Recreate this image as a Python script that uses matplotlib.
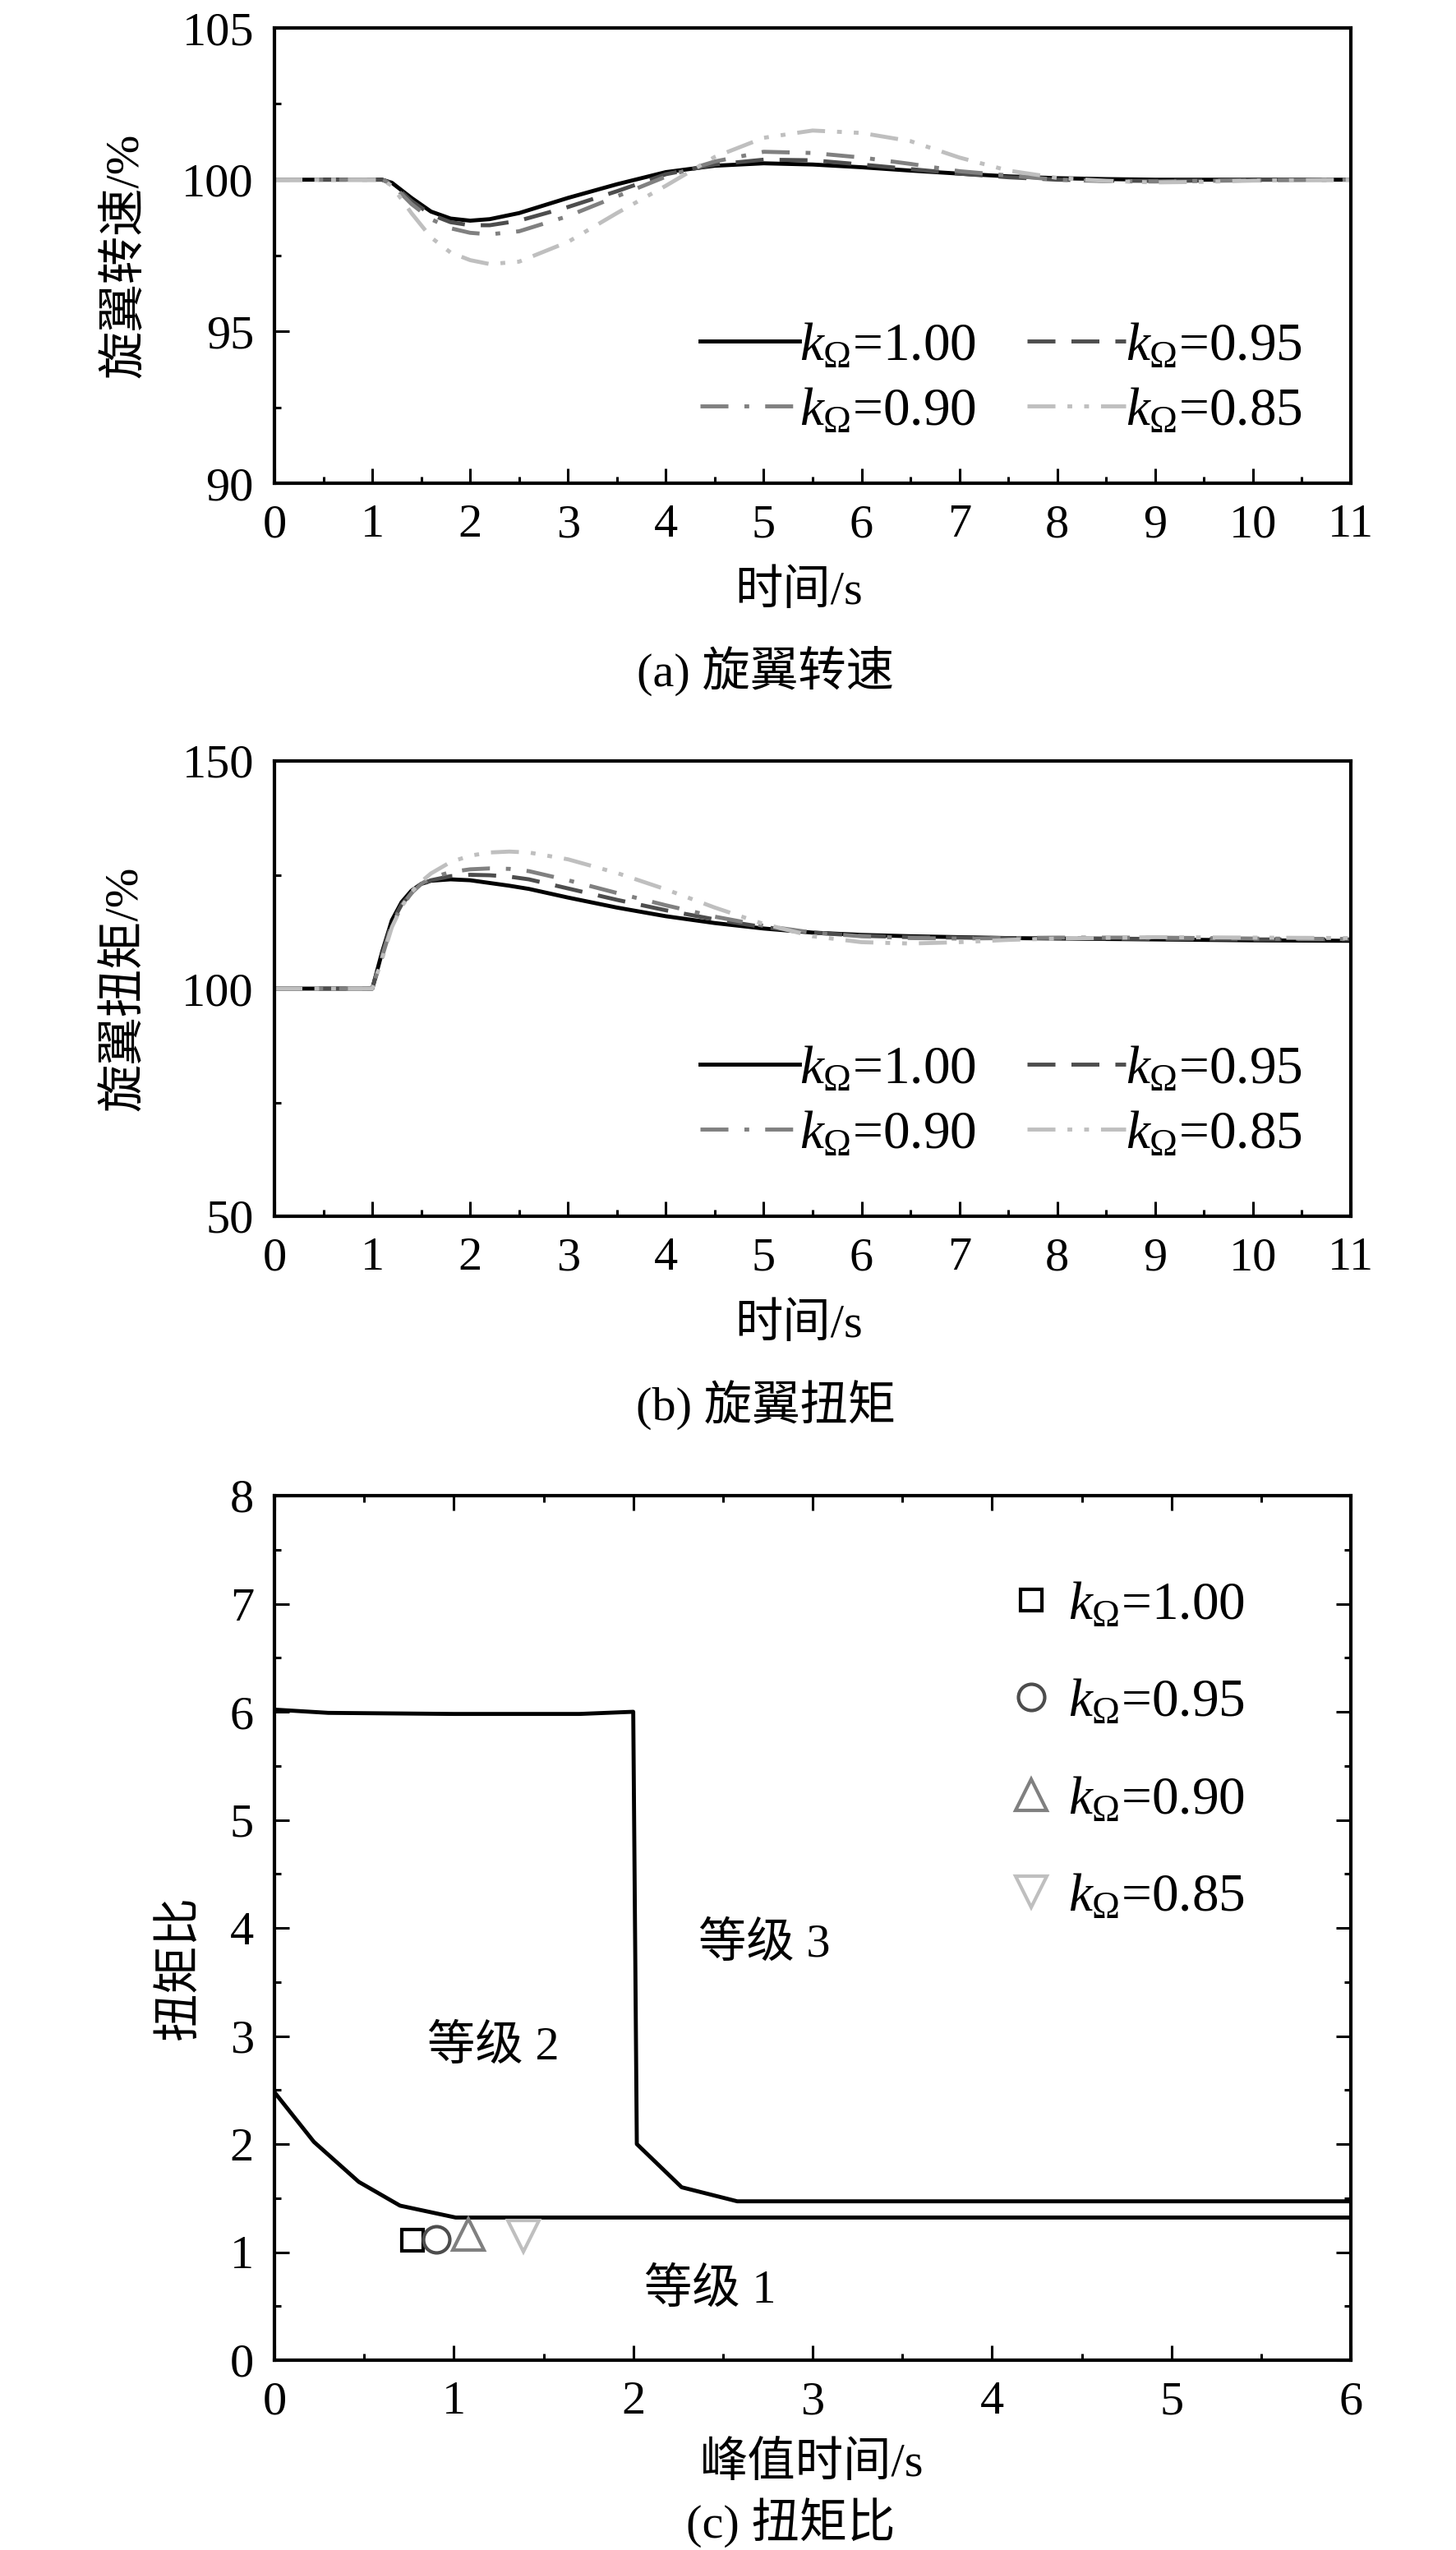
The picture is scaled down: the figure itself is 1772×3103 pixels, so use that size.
import matplotlib
matplotlib.use("Agg")
import matplotlib.pyplot as plt
from matplotlib.ticker import MultipleLocator

# ---------------- data ----------------
labels = [r'$k_{\mathrm{\Omega}}$=1.00', r'$k_{\mathrm{\Omega}}$=0.95',
          r'$k_{\mathrm{\Omega}}$=0.90', r'$k_{\mathrm{\Omega}}$=0.85']

# (a) rotor speed, %
t_speed = [0, 1.0, 1.1, 1.2, 1.4, 1.6, 1.8, 2.0, 2.2, 2.5, 3.0, 3.5, 4.0, 4.5,
           5.0, 5.5, 6.0, 6.5, 7.0, 7.5, 8.0, 8.5, 9.0, 9.5, 10.0, 11.0]
speed_100 = [100, 100, 100, 99.9, 99.4, 98.95, 98.72, 98.65, 98.7, 98.9, 99.4, 99.85, 100.25, 100.46,
             100.54, 100.5, 100.41, 100.3, 100.2, 100.11, 100.05, 100.02, 100.0, 100.0, 100.0, 100.0]
speed_095 = [100, 100, 100, 99.88, 99.3, 98.85, 98.6, 98.5, 98.5, 98.65, 99.1, 99.62, 100.18, 100.5,
             100.66, 100.64, 100.5, 100.35, 100.2, 100.08, 100.0, 99.97, 99.96, 99.97, 100.0, 100.0]
speed_090 = [100, 100, 100, 99.85, 99.2, 98.7, 98.4, 98.25, 98.2, 98.3, 98.8, 99.45, 100.1, 100.6,
             100.92, 100.88, 100.73, 100.52, 100.28, 100.14, 100.0, 99.95, 99.94, 99.96, 99.98, 100.0]
speed_085 = [100, 100, 100, 99.8, 98.9, 98.1, 97.6, 97.35, 97.22, 97.3, 97.95, 98.9, 99.8, 100.75,
             101.38, 101.62, 101.54, 101.27, 100.73, 100.3, 100.06, 99.96, 99.91, 99.93, 99.97, 100.0]

# (b) rotor torque, %
t_torque = [0, 1.0, 1.1, 1.2, 1.3, 1.4, 1.5, 1.6, 1.8, 2.0, 2.2, 2.4, 2.6, 3.0, 3.5, 4.0, 4.5,
            5.0, 5.5, 6.0, 6.5, 7.0, 7.5, 8.0, 9.0, 10.0, 11.0]
torque_100 = [100, 100, 108, 115, 119, 121.5, 123, 123.7, 124.0, 123.8, 123.2, 122.6, 121.9, 120.0, 117.8, 115.9, 114.4,
              113.2, 112.3, 111.8, 111.5, 111.3, 111.1, 111.0, 110.8, 110.6, 110.5]
torque_095 = [100, 100, 107.5, 114.5, 118.5, 121, 122.8, 123.8, 124.7, 125.0, 124.9, 124.6, 124.0, 122.0, 119.5, 117.2, 115.2,
              113.5, 112.3, 111.6, 111.3, 111.2, 111.1, 111.1, 110.9, 110.8, 110.8]
torque_090 = [100, 100, 107, 114, 118, 121, 123, 124.3, 125.6, 126.2, 126.4, 126.3, 125.8, 123.8, 121.0, 118.3, 115.8,
              113.8, 112.3, 111.5, 111.1, 111.0, 111.1, 111.2, 111.2, 111.0, 110.9]
torque_085 = [100, 100, 106.5, 113.5, 118, 121.2, 123.5, 125.3, 127.8, 129.2, 129.9, 130.1, 129.9, 128.4, 125.4, 121.8, 117.8,
              114.2, 111.5, 110.2, 109.9, 110.2, 110.7, 111.0, 111.3, 111.2, 111.1]

# (c) torque ratio boundaries and points
bound12_x = [0, 0.22, 0.47, 0.70, 1.01, 6.0]
bound12_y = [2.48, 2.02, 1.65, 1.43, 1.32, 1.32]
bound23_x = [0, 0.3, 1.0, 1.7, 2.0, 2.02, 2.27, 2.58, 6.0]
bound23_y = [6.02, 5.99, 5.98, 5.98, 6.0, 2.0, 1.6, 1.47, 1.47]
peak_time = [0.77, 0.90, 1.08, 1.39]
torque_ratio = [1.11, 1.12, 1.16, 1.15]

region_text = ['等级 1', '等级 2', '等级 3']
region_x = [2.43, 1.22, 2.73]
region_y = [0.65, 2.90, 3.85]

# ---------------- style ----------------
plt.rcParams['font.family'] = ['Liberation Serif', 'Noto Sans CJK SC']
plt.rcParams['mathtext.fontset'] = 'custom'
plt.rcParams['mathtext.rm'] = 'Liberation Serif'
plt.rcParams['mathtext.it'] = 'Liberation Serif:italic'
plt.rcParams['axes.unicode_minus'] = False

FS = 42
LEG_FS = 47
colors = ['#000000', '#4d4d4d', '#808080', '#bfbfbf']
dashes = [None, (7, 4), (7, 4, 1.2, 4), (7, 3, 1.2, 3, 1.2, 3)]
LW = 3.5

W, H = 1772, 3103
fig = plt.figure(figsize=(W / 100, H / 100), dpi=100)


def add_axes_px(left, top, right, bottom):
    return fig.add_axes([left / W, 1 - bottom / H, (right - left) / W, (bottom - top) / H])


def style_axes(ax, all_sides=False):
    for s in ax.spines.values():
        s.set_linewidth(3)
    ax.tick_params(which='both', direction='in', labelsize=FS, pad=18,
                   top=all_sides, right=all_sides, width=2.2)
    ax.tick_params(which='major', length=13)
    ax.tick_params(which='minor', length=6)


def px_to_axes(ax_box, x, y):
    left, top, right, bottom = ax_box
    return (x - left) / (right - left), (bottom - y) / (bottom - top)


def plot_curves(ax, t, series):
    lines = []
    for y, c, d, lab in zip(series, colors, dashes, labels):
        line, = ax.plot(t, y, color=c, lw=LW, label=lab)
        if d is not None:
            line.set_dashes(d)
        lines.append(line)
    return lines


def curve_legend(ax, lines, box, x, y):
    order = [0, 2, 1, 3]  # row-wise: 1.00, 0.95 / 0.90, 0.85
    ax.legend([lines[i] for i in order], [labels[i] for i in order],
              loc='upper left', bbox_to_anchor=px_to_axes(box, x, y), ncol=2,
              frameon=False, fontsize=LEG_FS, handlelength=1.85, handletextpad=0.0,
              columnspacing=0.95, labelspacing=0.3, borderpad=0, borderaxespad=0)


# ---- (a)
box_a = (334, 34, 1644, 588)
ax1 = add_axes_px(*box_a)
l1 = plot_curves(ax1, t_speed, [speed_100, speed_095, speed_090, speed_085])
ax1.set_xlim(0, 11)
ax1.set_ylim(90, 105)
ax1.xaxis.set_major_locator(MultipleLocator(1))
ax1.xaxis.set_minor_locator(MultipleLocator(0.5))
ax1.yaxis.set_major_locator(MultipleLocator(5))
ax1.yaxis.set_minor_locator(MultipleLocator(2.5))
style_axes(ax1)
ax1.set_xlabel('时间/s', fontsize=FS, va='center')
ax1.set_ylabel('旋翼转速/%', fontsize=FS, va='center')
ax1.xaxis.set_label_coords(*px_to_axes(box_a, 972, 720))
ax1.yaxis.set_label_coords(*px_to_axes(box_a, 152, 311))
curve_legend(ax1, l1, box_a, 852, 392)
fig.text(932 / W, 1 - 816 / H, '(a) 旋翼转速', fontsize=FS, ha='center', va='center')

# ---- (b)
box_b = (334, 926, 1644, 1480)
ax2 = add_axes_px(*box_b)
l2 = plot_curves(ax2, t_torque, [torque_100, torque_095, torque_090, torque_085])
ax2.set_xlim(0, 11)
ax2.set_ylim(50, 150)
ax2.xaxis.set_major_locator(MultipleLocator(1))
ax2.xaxis.set_minor_locator(MultipleLocator(0.5))
ax2.yaxis.set_major_locator(MultipleLocator(50))
ax2.yaxis.set_minor_locator(MultipleLocator(25))
style_axes(ax2)
ax2.set_xlabel('时间/s', fontsize=FS, va='center')
ax2.set_ylabel('旋翼扭矩/%', fontsize=FS, va='center')
ax2.xaxis.set_label_coords(*px_to_axes(box_b, 972, 1612))
ax2.yaxis.set_label_coords(*px_to_axes(box_b, 152, 1203))
curve_legend(ax2, l2, box_b, 852, 1272)
fig.text(932 / W, 1 - 1710 / H, '(b) 旋翼扭矩', fontsize=FS, ha='center', va='center')

# ---- (c)
box_c = (334, 1820, 1644, 2872)
ax3 = add_axes_px(*box_c)
ax3.plot(bound12_x, bound12_y, color='black', lw=3.5)
ax3.plot(bound23_x, bound23_y, color='black', lw=3.5)
markers = ['s', 'o', '^', 'v']
msizes = [19, 23, 28, 28]
for x, y, m, ms, c, lab in zip(peak_time, torque_ratio, markers, msizes, colors, labels):
    ax3.plot([x], [y], linestyle='none', marker=m, markersize=ms, markerfacecolor='none',
             markeredgecolor=c, markeredgewidth=3, label=lab)
for s, x, y in zip(region_text, region_x, region_y):
    ax3.text(x, y, s, fontsize=FS, ha='center', va='center')
ax3.set_xlim(0, 6)
ax3.set_ylim(0, 8)
ax3.xaxis.set_major_locator(MultipleLocator(1))
ax3.xaxis.set_minor_locator(MultipleLocator(0.5))
ax3.yaxis.set_major_locator(MultipleLocator(1))
ax3.yaxis.set_minor_locator(MultipleLocator(0.5))
style_axes(ax3, all_sides=True)
ax3.set_xlabel('峰值时间/s', fontsize=FS, va='center')
ax3.set_ylabel('扭矩比', fontsize=FS, va='center')
ax3.xaxis.set_label_coords(*px_to_axes(box_c, 988, 2998))
ax3.yaxis.set_label_coords(*px_to_axes(box_c, 220, 2394))
ax3.legend(loc='upper left', bbox_to_anchor=px_to_axes(box_c, 1222, 1924), ncol=1,
           frameon=False, fontsize=LEG_FS, handlelength=1.0, handletextpad=0.2,
           labelspacing=0.9, borderpad=0, borderaxespad=0)
fig.text(962 / W, 1 - 3070 / H, '(c) 扭矩比', fontsize=FS, ha='center', va='center')

fig.savefig('out.png', dpi=100)
